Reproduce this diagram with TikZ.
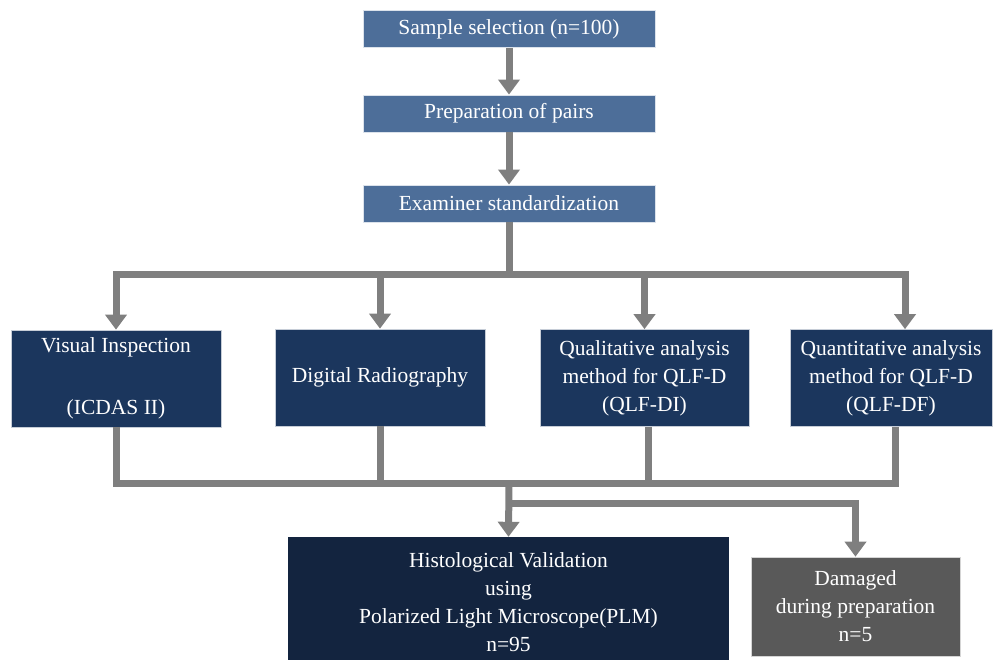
\documentclass[tikz,border=0pt]{standalone}
\usepackage{fontspec}
\setmainfont{Liberation Serif}
\usepackage{tikz}
\usetikzlibrary{arrows.meta}

\definecolor{topblue}{HTML}{4D6E99}
\definecolor{navy}{HTML}{1B365D}
\definecolor{deepnavy}{HTML}{13243F}
\definecolor{darkgray}{HTML}{595959}
\definecolor{linegray}{HTML}{7F7F7F}

\begin{document}
\begin{tikzpicture}[x=1pt,y=-1pt,
    box/.style={inner sep=0pt,align=center,text=white,
      font=\fontsize{21.5}{28}\selectfont},
    topbox/.style={box,fill=topblue,draw=white!80!topblue,line width=0.8pt,
      minimum width=292pt,minimum height=37pt},
    methodbox/.style={box,fill=navy,draw=white!75!navy,line width=0.6pt,
      minimum height=97pt},
    link/.style={draw=linegray,line width=7pt},
    flow/.style={link,-{Triangle[width=21pt,length=15pt]}}]
  \useasboundingbox (0,0) rectangle (993,660);

  \node[topbox] (sample) at (509,29) {Sample selection (n=100)};
  \node[topbox] (pairs) at (509,113.5) {Preparation of pairs};
  \node[topbox] (std) at (509,203.5) {Examiner standardization};

  \node[methodbox,minimum width=210pt] (vi) at (116,378.5) {Visual Inspection\\[34pt](ICDAS II)};
  \node[methodbox,minimum width=210pt] (dr) at (380,377.5) {Digital Radiography};
  \node[methodbox,minimum width=209pt] (di) at (644.5,378) {Qualitative analysis\\method for QLF-D\\(QLF-DI)};
  \node[methodbox,minimum width=202pt] (df) at (891,378) {Quantitative analysis\\method for QLF-D\\(QLF-DF)};

  \node[box,fill=deepnavy,minimum width=441pt,minimum height=130pt] (hist) at (508.5,602)
    {Histological Validation\\using\\Polarized Light Microscope(PLM)\\n=95};
  \node[box,fill=darkgray,draw=white!75!darkgray,line width=0.6pt,
    minimum width=209pt,minimum height=99pt] (dmg) at (855.5,606.5)
    {Damaged\\during preparation\\n=5};

  \coordinate (split) at (509,275);
  \coordinate (merge) at (509,483);
  \coordinate (fork) at (509,503);

  \draw[flow] (sample) -- (pairs);
  \draw[flow] (pairs) -- (std);

  \draw[link] (std) -- (split);
  \draw[flow] (split) -| (vi.north);
  \draw[flow] (split) -| (dr.north);
  \draw[flow] (split) -| (di.north);
  \draw[flow] (split) -| ([xshift=14pt]df.north);

  \draw[link] (vi.south) |- ([xshift=4pt]df.south |- merge) -- ([xshift=4pt]df.south);
  \draw[link] (dr.south) -- (dr.south |- merge);
  \draw[link] ([xshift=4pt]di.south) -- ([xshift=4pt]di.south |- merge);

  \draw[flow] (merge) -- (hist.north);
  \draw[flow] (fork) -| (dmg.north);
\end{tikzpicture}
\end{document}
